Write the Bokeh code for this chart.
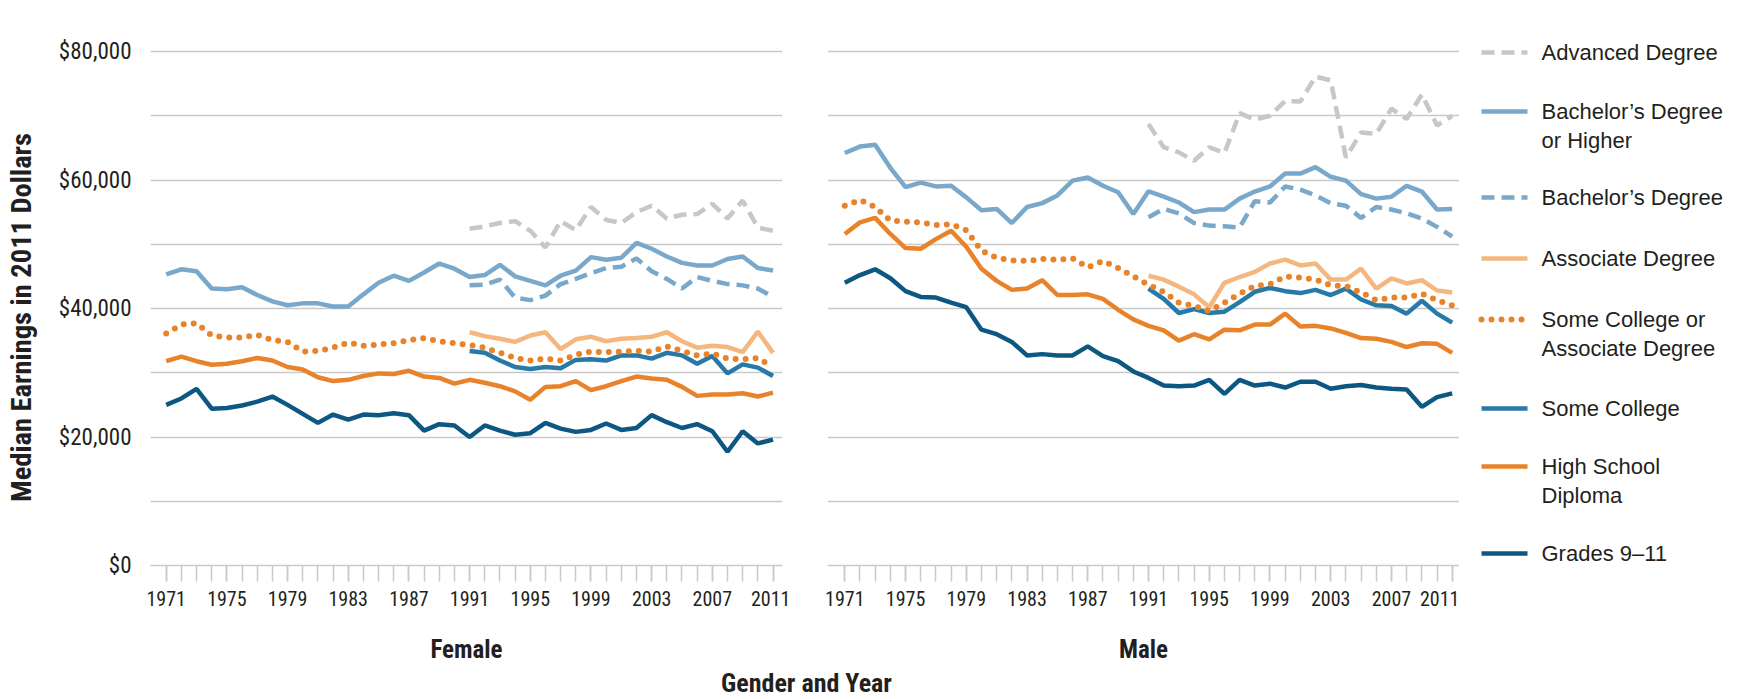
import math
from bokeh.plotting import figure
from bokeh.models import Range1d, FixedTicker, NumeralTickFormatter, Label
from bokeh.layouts import row, column
from bokeh.embed import file_html
from bokeh.resources import INLINE
from bokeh.core.properties import value

# ---------------- data ----------------
years = list(range(1971, 2012))
years_late = list(range(1991, 2012))

f_grades = [25000, 26000, 27500, 24400, 24500, 24900, 25500, 26300, 25000, 23600,
            22200, 23500, 22700, 23500, 23400, 23700, 23400, 21000, 22000, 21800,
            20000, 21800, 21000, 20350, 20600, 22200, 21300, 20800, 21100, 22100,
            21100, 21400, 23400, 22300, 21400, 22000, 20900, 17700, 20900, 19000, 19600]
f_hs = [31800, 32500, 31800, 31250, 31400, 31800, 32300, 31900, 30900, 30500,
        29300, 28700, 28900, 29500, 29900, 29800, 30300, 29400, 29200, 28300,
        28900, 28450, 27900, 27100, 25800, 27800, 27900, 28700, 27300, 27900,
        28700, 29400, 29100, 28900, 27800, 26400, 26600, 26600, 26800, 26300, 26900]
f_scoa = [36100, 37500, 37700, 35800, 35500, 35500, 35900, 35100, 34800, 33300,
          33400, 33900, 34700, 34200, 34400, 34600, 35100, 35400, 34900, 34600,
          34300, 33900, 33100, 32300, 31900, 32200, 31900, 32800, 33300, 33200,
          33300, 33400, 33300, 34100, 33400, 32700, 33000, 32200, 32100, 32300, 30900]
f_bh = [45300, 46100, 45800, 43100, 43000, 43300, 42100, 41100, 40500, 40800,
        40800, 40300, 40300, 42200, 44000, 45100, 44300, 45600, 47000, 46200,
        44900, 45200, 46800, 45000, 44300, 43600, 45100, 45900, 48000, 47600,
        47900, 50200, 49300, 48100, 47100, 46700, 46700, 47700, 48100, 46300, 45900]
f_ba = [43600, 43700, 44500, 41700, 41300, 42000, 43800, 44600, 45500, 46300,
        46500, 47800, 45800, 44600, 43100, 44900, 44300, 43800, 43600, 43100, 41800]
f_adv = [52400, 52800, 53300, 53600, 52100, 49500, 53600, 52200, 55800, 53800,
         53300, 55000, 56000, 54000, 54600, 54700, 56300, 54000, 56800, 52600, 52100]
f_assoc = [36300, 35700, 35300, 34800, 35800, 36300, 33700, 35200, 35600, 34900,
           35300, 35400, 35600, 36300, 34900, 33900, 34200, 34000, 33200, 36400, 33100]
f_sc = [33400, 33100, 31900, 30900, 30600, 30900, 30700, 32000, 32100, 31900,
        32700, 32700, 32200, 33100, 32700, 31400, 32600, 29900, 31300, 30800, 29500]

m_grades = [44000, 45200, 46100, 44700, 42700, 41800, 41700, 40900, 40200, 36700,
            36000, 34800, 32700, 32900, 32700, 32700, 34100, 32600, 31800, 30200,
            29200, 28000, 27900, 28000, 28900, 26700, 28900, 28000, 28300, 27700,
            28600, 28600, 27500, 27900, 28100, 27700, 27500, 27400, 24700, 26200, 26800]
m_hs = [51600, 53400, 54100, 51600, 49400, 49300, 50800, 52100, 49600, 46200,
        44300, 42900, 43100, 44400, 42100, 42100, 42200, 41500, 39800, 38300,
        37300, 36600, 35000, 36000, 35200, 36700, 36600, 37500, 37500, 39200,
        37200, 37300, 36900, 36200, 35400, 35300, 34800, 34000, 34600, 34500, 33100]
m_scoa = [56000, 56900, 55800, 53700, 53500, 53400, 53000, 53100, 52200, 49000,
          47900, 47500, 47400, 47700, 47600, 47800, 46400, 47400, 46300, 45000,
          43700, 42600, 40900, 40400, 39600, 40900, 42300, 43500, 43800, 45000,
          44800, 44500, 43600, 43500, 42500, 41300, 41700, 41700, 42300, 41300, 40500]
m_bh = [64200, 65200, 65500, 61900, 58900, 59600, 59000, 59100, 57300, 55300,
        55500, 53300, 55800, 56400, 57600, 59900, 60400, 59100, 58100, 54700,
        58250, 57400, 56500, 55000, 55400, 55400, 57100, 58200, 59000, 61000,
        61000, 62000, 60500, 59900, 57800, 57100, 57400, 59100, 58200, 55400, 55500]
m_ba = [54200, 55500, 54800, 53300, 52900, 52800, 52600, 56700, 56500, 59000,
        58500, 57600, 56400, 56000, 54100, 55800, 55400, 54800, 54000, 52700, 51200]
m_adv = [68700, 65100, 64300, 63000, 65100, 64200, 70400, 69400, 70000, 72300,
         72200, 76100, 75500, 63500, 67400, 67200, 71100, 69500, 73300, 68500, 70000]
m_assoc = [45100, 44500, 43400, 42200, 40200, 44000, 44900, 45700, 47000, 47600,
           46700, 47000, 44500, 44500, 46200, 43100, 44700, 43900, 44400, 42800, 42500]
m_sc = [43100, 41500, 39300, 39900, 39300, 39500, 41000, 42600, 43200, 42700,
        42400, 42900, 42100, 43100, 41400, 40500, 40400, 39200, 41200, 39200, 37800]

series_keys = ["adv", "bh", "ba", "assoc", "scoa", "sc", "hs", "grades"]
legend_labels = ["Advanced Degree", "Bachelor\u2019s Degree\nor Higher", "Bachelor\u2019s Degree",
                 "Associate Degree", "Some College or\nAssociate Degree", "Some College",
                 "High School\nDiploma", "Grades 9\u201311"]
y_ticks = [0, 20000, 40000, 60000, 80000]
grid_ticks = [0, 10000, 20000, 30000, 40000, 50000, 60000, 70000, 80000]
x_label_ticks = [1971, 1975, 1979, 1983, 1987, 1991, 1995, 1999, 2003, 2007, 2011]

female = {"grades": (years, f_grades), "hs": (years, f_hs), "scoa": (years, f_scoa),
          "bh": (years, f_bh), "ba": (years_late, f_ba), "adv": (years_late, f_adv),
          "assoc": (years_late, f_assoc), "sc": (years_late, f_sc)}
male = {"grades": (years, m_grades), "hs": (years, m_hs), "scoa": (years, m_scoa),
        "bh": (years, m_bh), "ba": (years_late, m_ba), "adv": (years_late, m_adv),
        "assoc": (years_late, m_assoc), "sc": (years_late, m_sc)}

# ---------------- styles ----------------
STYLE = {
    "adv":    dict(line_color="#C6C7C9", line_width=4.5, line_dash="13 7"),
    "bh":     dict(line_color="#79A8CA", line_width=4.5),
    "ba":     dict(line_color="#79A8CA", line_width=4.5, line_dash="13 7"),
    "assoc":  dict(line_color="#F5B780", line_width=4.5),
    "scoa":   dict(line_color="#E8832A", line_width=6, line_dash="0 10", line_cap="round"),
    "sc":     dict(line_color="#2779A7", line_width=4.5),
    "hs":     dict(line_color="#E8832A", line_width=4.5),
    "grades": dict(line_color="#0D5783", line_width=4.5),
}
DRAW_ORDER = ["adv", "bh", "ba", "assoc", "sc", "hs", "grades", "scoa"]

NARROW = "Liberation Sans Narrow, Roboto Condensed, DejaVu Sans Condensed, Liberation Sans, sans-serif"
REGULAR = "Liberation Sans"
TXT = "#231F20"
GRID = "#C9C9C9"

ROW_H = 668
TOP = 31          # frame top (page px)
FRAME_B = 565     # frame bottom (page px)
BOTTOM = ROW_H - FRAME_B
Y_END = 80000 + 20 / 64.25 * 10000


def blank(p):
    p.axis.visible = False
    p.grid.visible = False
    p.outline_line_color = None
    p.background_fill_color = "white"
    p.border_fill_color = "white"


def panel(width, bl, br, xr, data, show_y, xlabel):
    p = figure(width=width, height=ROW_H, x_range=Range1d(*xr), y_range=Range1d(0, Y_END),
               output_backend="svg", toolbar_location=None, title=None,
               min_border_left=bl, min_border_right=br, min_border_top=TOP,
               min_border_bottom=BOTTOM)
    p.outline_line_color = None
    p.background_fill_color = "white"
    p.border_fill_color = "white"
    p.xgrid.visible = False
    p.ygrid.ticker = FixedTicker(ticks=grid_ticks)
    p.ygrid.grid_line_color = GRID
    p.ygrid.grid_line_width = 1.5

    ax = p.xaxis[0]
    ax.ticker = FixedTicker(ticks=x_label_ticks, minor_ticks=years)
    ax.axis_line_color = GRID
    ax.axis_line_width = 1.5
    ax.major_tick_line_color = GRID
    ax.minor_tick_line_color = GRID
    ax.major_tick_line_width = 1.5
    ax.minor_tick_line_width = 1.5
    ax.major_tick_out = 16
    ax.major_tick_in = 0
    ax.minor_tick_out = 16
    ax.minor_tick_in = 0
    ax.major_label_text_font = NARROW
    ax.major_label_text_font_size = "20px"
    ax.major_label_text_color = TXT
    ax.major_label_standoff = 9
    ax.axis_label = xlabel
    ax.axis_label_text_font = NARROW
    ax.axis_label_text_font_style = "bold"
    ax.axis_label_text_font_size = "25px"
    ax.axis_label_text_color = TXT
    ax.axis_label_standoff = 26

    ay = p.yaxis[0]
    if show_y:
        ay.ticker = FixedTicker(ticks=y_ticks)
        ay.formatter = NumeralTickFormatter(format="$0,0")
        ay.axis_line_color = None
        ay.major_tick_line_color = None
        ay.minor_tick_line_color = None
        ay.major_label_text_font = NARROW
        ay.major_label_text_font_size = "23px"
        ay.major_label_text_color = TXT
        ay.major_label_standoff = 13
    else:
        ay.visible = False

    for key in DRAW_ORDER:
        xs, ys = data[key]
        p.line(xs, ys, **STYLE[key])
    return p


# y-axis title strip (page x 0..45)
TW = 45
fT = figure(width=TW, height=ROW_H, x_range=Range1d(0, TW), y_range=Range1d(0, FRAME_B - TOP),
            output_backend="svg", toolbar_location=None, title=None,
            min_border_left=0, min_border_right=0, min_border_top=TOP, min_border_bottom=BOTTOM)
blank(fT)
fT.text(x=[20.5], y=[FRAME_B - 317], text=["Median Earnings in 2011 Dollars"], angle=math.pi / 2,
        text_font=value(NARROW), text_font_style=value("bold"), text_font_size="28.5px",
        text_color=TXT, text_align="center", text_baseline="middle")

# female frame: page x 150..782 ; male frame 827..1459
fF = panel(790 - TW, 150 - TW, 8, (1969.965, 2011.626), female, True, "Female")
fM = panel(669, 37, 0, (1969.861, 2011.48), male, False, "Male")

# legend strip (page x 1459..1743), data coords = page coords
LX0, LX1 = 1459, 1743
fL = figure(width=LX1 - LX0, height=ROW_H, x_range=Range1d(LX0, LX1), y_range=Range1d(FRAME_B, TOP),
            output_backend="svg", toolbar_location=None, title=None,
            min_border_left=0, min_border_right=0, min_border_top=TOP, min_border_bottom=BOTTOM)
blank(fL)
entry_y = [52, 111, 197, 258, 319, 408, 466, 553]
line_gap = 28.5
for key, lab, yc in zip(series_keys, legend_labels, entry_y):
    fL.line([1481, 1527], [yc, yc], **STYLE[key])
    for j, part in enumerate(lab.split("\n")):
        fL.text(x=[1541], y=[yc + j * line_gap], text=[part], text_font=value(REGULAR),
                text_font_size="22px", text_color=TXT, text_baseline="middle",
                text_align="left")

# bottom title strip (page y 668..698)
BW, BH = 1743, 30
fB = figure(width=BW, height=BH, x_range=Range1d(0, BW), y_range=Range1d(0, BH),
            output_backend="svg", toolbar_location=None, title=None,
            min_border_left=0, min_border_right=0, min_border_top=0, min_border_bottom=0)
blank(fB)
fB.add_layout(Label(x=806, y=BH - (682 - ROW_H), text="Gender and Year", text_align="center",
                    text_baseline="middle", text_font=NARROW, text_font_style="bold",
                    text_font_size="26px", text_color=TXT))

layout = column(row(fT, fF, fM, fL, spacing=0), fB, spacing=0)

open("out.html", "w").write(file_html(layout, INLINE))
